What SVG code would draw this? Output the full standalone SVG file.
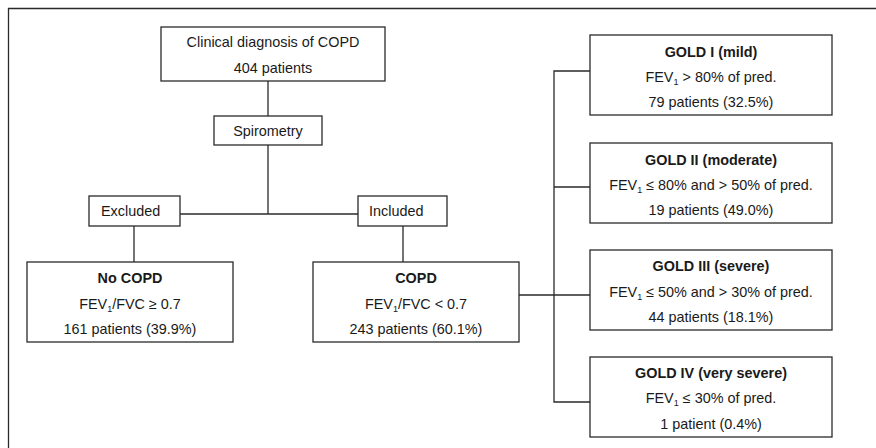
<svg xmlns="http://www.w3.org/2000/svg" width="876" height="448" viewBox="0 0 876 448">
<style>
.box{fill:#fff;stroke:#2a2a2a;stroke-width:1.3}
.ln{fill:none;stroke:#2a2a2a;stroke-width:1.3}
text{font-family:"Liberation Sans",Arial,sans-serif;font-size:14.4px;fill:#1a1a1a;text-anchor:middle}
.b{font-weight:bold}
.l{text-anchor:start}
.sub{font-size:9px}
</style>
<rect width="876" height="448" fill="#fff"/>
<path class="ln" d="M8.5,448 V8.5 H876" stroke-width="1.5"/>
<g id="connectors">
<path class="ln" d="M268,81 V116"/>
<path class="ln" d="M268,145 V214"/>
<path class="ln" d="M180,214 H358"/>
<path class="ln" d="M134,226 V262"/>
<path class="ln" d="M403,226 V262"/>
<path class="ln" d="M519,295 H590"/>
<path class="ln" d="M590,71 H554 V402 H590"/>
<path class="ln" d="M554,187 H590"/>
</g>
<g id="clinical">
<rect class="box" x="161" y="27" width="224" height="54"/>
<text x="273" y="47">Clinical diagnosis of COPD</text>
<text x="273" y="73">404 patients</text>
</g>
<g id="spirometry">
<rect class="box" x="214" y="116" width="108" height="29"/>
<text x="268" y="136">Spirometry</text>
</g>
<g id="excluded">
<rect class="box" x="89" y="196" width="91" height="30"/>
<text class="l" x="101" y="216">Excluded</text>
</g>
<g id="included">
<rect class="box" x="358" y="196" width="89" height="30"/>
<text class="l" x="369" y="216">Included</text>
</g>
<g id="nocopd">
<rect class="box" x="27" y="262" width="206" height="80"/>
<text class="b" x="130" y="283">No COPD</text>
<text x="130" y="308.5">FEV<tspan class="sub" dy="3">1</tspan><tspan dy="-3">/FVC ≥ 0.7</tspan></text>
<text x="130" y="334">161 patients (39.9%)</text>
</g>
<g id="copd">
<rect class="box" x="313" y="262" width="206" height="80"/>
<text class="b" x="416" y="283">COPD</text>
<text x="416" y="308.5">FEV<tspan class="sub" dy="3">1</tspan><tspan dy="-3">/FVC &lt; 0.7</tspan></text>
<text x="416" y="334">243 patients (60.1%)</text>
</g>
<g id="gold1">
<rect class="box" x="590" y="35" width="242" height="80"/>
<text class="b" x="711" y="56.5">GOLD I (mild)</text>
<text x="711" y="82">FEV<tspan class="sub" dy="3">1</tspan><tspan dy="-3"> &gt; 80% of pred.</tspan></text>
<text x="711" y="106.5">79 patients (32.5%)</text>
</g>
<g id="gold2">
<rect class="box" x="590" y="143" width="242" height="80"/>
<text class="b" x="711" y="164.5">GOLD II (moderate)</text>
<text x="711" y="190">FEV<tspan class="sub" dy="3">1</tspan><tspan dy="-3"> ≤ 80% and &gt; 50% of pred.</tspan></text>
<text x="711" y="214.5">19 patients (49.0%)</text>
</g>
<g id="gold3">
<rect class="box" x="590" y="250" width="242" height="80"/>
<text class="b" x="711" y="271">GOLD III (severe)</text>
<text x="711" y="296.5">FEV<tspan class="sub" dy="3">1</tspan><tspan dy="-3"> ≤ 50% and &gt; 30% of pred.</tspan></text>
<text x="711" y="322">44 patients (18.1%)</text>
</g>
<g id="gold4">
<rect class="box" x="590" y="357" width="242" height="80"/>
<text class="b" x="711" y="377.5">GOLD IV (very severe)</text>
<text x="711" y="403">FEV<tspan class="sub" dy="3">1</tspan><tspan dy="-3"> ≤ 30% of pred.</tspan></text>
<text x="711" y="429">1 patient (0.4%)</text>
</g>
</svg>
